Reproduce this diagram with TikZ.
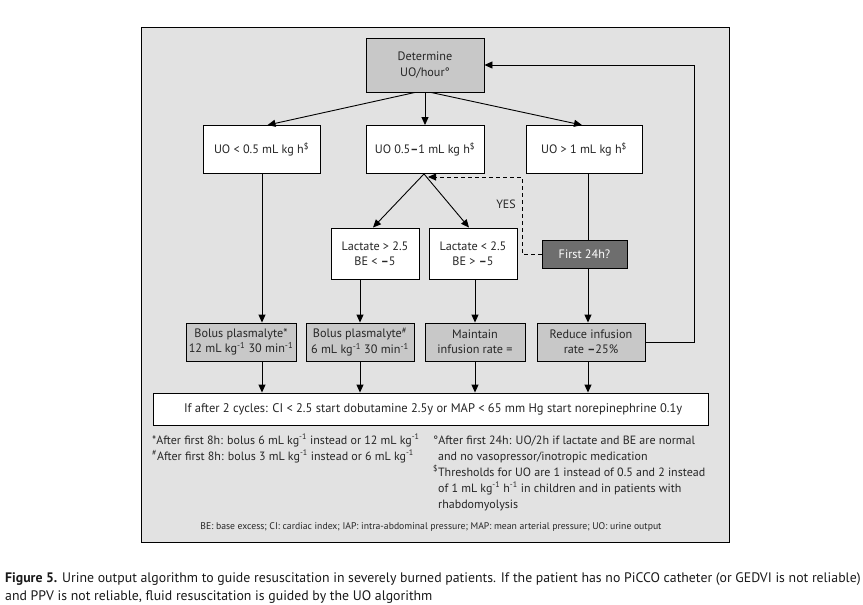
\documentclass[tikz,border=0pt]{standalone}
\usepackage{fontspec}
\setmainfont{PT Sans}
\usetikzlibrary{arrows.meta}
\definecolor{panel}{HTML}{E2E2E2}
\definecolor{boxgray}{HTML}{C8C8C8}
\definecolor{darkbox}{HTML}{6E6E6E}
\definecolor{captxt}{HTML}{1A1A1A}
\newcommand{\sps}[1]{\textsuperscript{#1}}
\newcommand{\bdash}{\textbf{--}}
\begin{document}
\begin{tikzpicture}[x=1pt,y=-1pt,
  box/.style={draw=black, line width=0.9pt, fill=white, inner sep=0pt, align=center,
              font=\fontsize{12.2}{15.5}\selectfont, text=black!85},
  gbox/.style={box, fill=boxgray},
  dbox/.style={box, fill=darkbox, text=white},
  arr/.style={-{Triangle[length=8pt,width=7pt]}, line width=0.9pt},
  dsh/.style={-{Triangle[length=8pt,width=7pt]}, line width=0.9pt, dashed, dash pattern=on 4pt off 3pt},
  note/.style={anchor=base west, inner sep=0pt, font=\fontsize{12}{14}\selectfont, text=black!85},
]
\useasboundingbox[fill=white] (0,0) rectangle (863,605);
\draw[fill=panel, line width=1pt] (141.5,27) rectangle (729,542);

% boxes
\node[gbox, minimum width=118pt, minimum height=54pt] (det) at (425,65) {Determine\\UO/hour°};
\node[box, minimum width=117pt, minimum height=48pt] (uolow) at (261.5,149.5) {UO < 0.5 mL kg h\sps{\$}};
\node[box, minimum width=118pt, minimum height=48pt] (uomid) at (425,149.5) {UO 0.5\bdash1 mL kg h\sps{\$}};
\node[box, minimum width=116pt, minimum height=48pt] (uohi) at (584,149.5) {UO > 1 mL kg h\sps{\$}};
\node[box, minimum width=88pt, minimum height=51pt] (lachi) at (375,253.5) {Lactate > 2.5\\BE < \bdash5};
\node[box, minimum width=88pt, minimum height=51pt] (laclo) at (473,253.5) {Lactate < 2.5\\BE > \bdash5};
\node[dbox, minimum width=85pt, minimum height=28pt] (first) at (584.5,254) {First 24h?};
\node[gbox, minimum width=110pt, minimum height=38pt] (bol1) at (241,342) {Bolus plasmalyte*\\12 mL kg\sps{-1} 30 min\sps{-1}};
\node[gbox, minimum width=108pt, minimum height=38pt] (bol2) at (360,342) {Bolus plasmalyte\sps{\#}\\6 mL kg\sps{-1} 30 min\sps{-1}};
\node[gbox, minimum width=100pt, minimum height=38pt] (bol3) at (475,342) {Maintain\\infusion rate =};
\node[gbox, minimum width=108pt, minimum height=38pt] (bol4) at (591,342) {Reduce infusion\\rate \bdash25\%};
\node[box, minimum width=555pt, minimum height=32pt, font=\fontsize{12.5}{14}\selectfont] (bottom) at (430.5,409)
  {\makebox[555pt][l]{\hspace{31pt}If after 2 cycles: CI < 2.5 start dobutamine 2.5y or MAP < 65 mm Hg start norepinephrine 0.1y}};

% coordinates
\coordinate (lp) at (694,65);
\coordinate (dj) at (522,177);
\coordinate (dtip) at (428,177);
\coordinate (x1) at (262,0);
\coordinate (x4) at (588,0);

% arrows from determine
\draw[arr] ([xshift=-10pt]det.south) -- ([xshift=6pt]uolow.north);
\draw[arr] (det.south) -- (uomid.north);
\draw[arr] ([xshift=6pt]det.south) -- ([xshift=-2pt]uohi.north);

% UO 0.5-1 split
\draw[arr] ([xshift=-1pt]uomid.south) -- ([xshift=-2pt]lachi.north);
\draw[arr] ([xshift=-1pt]uomid.south) -- ([xshift=-4pt]laclo.north);

% dashed YES loop
\draw[dsh] (first.west) -- (dj |- first.west) -- (dj) -- (dtip);
\node[anchor=east, inner sep=0pt, font=\fontsize{12}{13}\selectfont, text=black!85] (yes) at (516,204) {YES};

% verticals
\draw[arr] (x1 |- uolow.south) -- (x1 |- bol1.north);
\draw[arr] (bol2 |- lachi.south) -- (bol2.north);
\draw[arr] (bol3 |- laclo.south) -- (bol3.north);
\draw[line width=0.9pt] (x4 |- uohi.south) -- (x4 |- first.north);
\draw[arr] (x4 |- first.south) -- (x4 |- bol4.north);

\draw[arr] (x1 |- bol1.south) -- (x1 |- bottom.north);
\draw[arr] (bol2.south) -- (bol2 |- bottom.north);
\draw[arr] (bol3.south) -- (bol3 |- bottom.north);
\draw[arr] (x4 |- bol4.south) -- (x4 |- bottom.north);

% loop back
\draw[arr] (bol4.east) -| (lp) -- (det.east |- lp);

% footnotes
\node[note] (n1) at (152,444) {*After first 8h: bolus 6 mL kg\sps{-1} instead or 12 mL kg\sps{-1}};
\node[note] (n2) at (152,460) {\sps{\#}After first 8h: bolus 3 mL kg\sps{-1} instead or 6 mL kg\sps{-1}};
\node[note] (n3) at (433,444) {°After first 24h: UO/2h if lactate and BE are normal};
\node[note] (n4) at (438,460) {and no vasopressor/inotropic medication};
\node[note] (n5) at (433,476) {\sps{\$}Thresholds for UO are 1 instead of 0.5 and 2 instead};
\node[note] (n6) at (438,492) {of 1 mL kg\sps{-1} h\sps{-1} in children and in patients with};
\node[note] (n7) at (438,508) {rhabdomyolysis};
\node[anchor=base, inner sep=0pt, font=\fontsize{9.7}{11}\selectfont, text=black!85] (abbr) at (431,529.5)
  {BE: base excess; CI: cardiac index; IAP: intra-abdominal pressure; MAP: mean arterial pressure; UO: urine output};

% caption
\node[anchor=base west, inner sep=0pt, font=\fontsize{13.8}{15}\selectfont, text=captxt] (cap1) at (5,582)
  {\textbf{Figure 5.} Urine output algorithm to guide resuscitation in severely burned patients. If the patient has no PiCCO catheter (or GEDVI is not reliable)};
\node[anchor=base west, inner sep=0pt, font=\fontsize{13.8}{15}\selectfont, text=captxt] (cap2) at (5,600)
  {and PPV is not reliable, fluid resuscitation is guided by the UO algorithm};
\end{tikzpicture}
\end{document}
